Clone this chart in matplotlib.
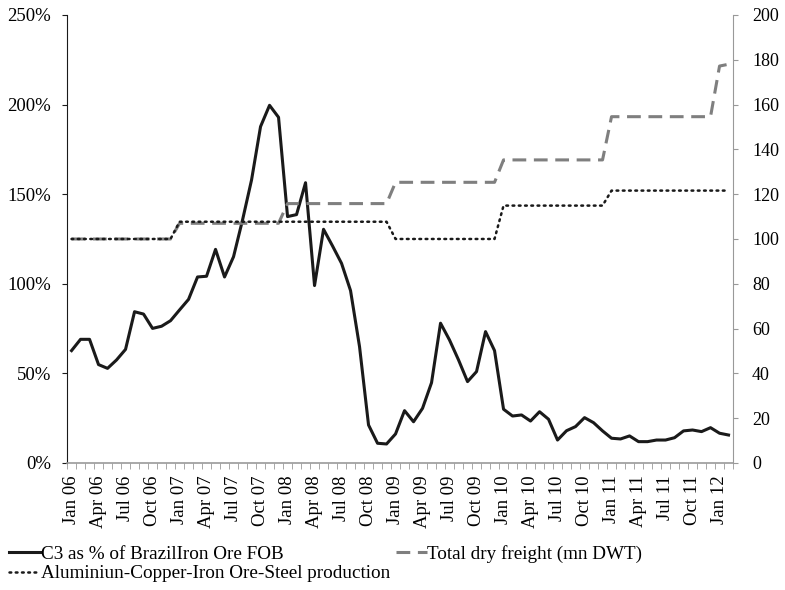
import numpy as np #number functions
import matplotlib
matplotlib.use('Agg')
import matplotlib.pyplot as plt #plotting functions
from matplotlib.ticker import FixedLocator, FuncFormatter

plt.rcParams['font.family'] = ['Liberation Serif', 'DejaVu Serif'] #times-like font

months = ['Jan', 'Feb', 'Mar', 'Apr', 'May', 'Jun', 'Jul', 'Aug', 'Sep', 'Oct', 'Nov', 'Dec']
labels = [m + ' %02d' % y for y in range(6, 13) for m in months][:74] #Jan 06 .. Feb 12

# C3 as % of Brazil iron ore FOB (left axis, %)
c3_pct = [62.7, 69.0, 69.0, 54.9, 52.8, 57.5, 63.4, 84.4, 83.1, 75.1, 76.3, 79.4,
          85.4, 91.3, 103.8, 104.2, 119.2, 103.8, 115.1, 135.6, 157.9, 187.7, 199.6, 192.9,
          137.5, 138.6, 156.4, 99.0, 130.4, 121.1, 111.4, 96.2, 64.9, 21.2, 11.0, 10.6,
          16.2, 29.2, 23.0, 30.5, 44.8, 78.0, 68.6, 57.5, 45.4, 51.0, 73.3, 62.7,
          30.0, 26.2, 26.8, 23.4, 28.6, 24.4, 12.8, 18.0, 20.3, 25.3, 22.5, 17.9,
          13.8, 13.4, 15.1, 11.9, 11.9, 12.8, 12.8, 14.1, 17.9, 18.4, 17.5, 19.7,
          16.6, 15.6]

# total dry freight, mn DWT (right axis)
freight = [100.0] * 12 + [107.0] * 12 + [115.8] * 12 + [125.3] * 12 + [135.3] * 12 + [154.6] * 12 + [177.2, 178.0]

# aluminium-copper-iron ore-steel production index (right axis)
production = [100.0] * 12 + [107.7] * 24 + [100.0] * 12 + [114.9] * 12 + [121.6] * 14

x = np.arange(len(labels))

fig = plt.figure(figsize=(7.85, 5.9), dpi=100)
ax = fig.add_axes([0.0854, 0.2153, 0.8484, 0.7593])
ax2 = ax.twinx()

l1, = ax.plot(x, c3_pct, color='#1a1a1a', lw=2.2, label='C3 as % of BrazilIron Ore FOB')
l2, = ax2.plot(x, freight, color='#7f7f7f', lw=2.2, ls=(0, (4.5, 2.5)), label='Total dry freight (mn DWT)')
l3, = ax2.plot(x, production, color='#1a1a1a', lw=1.8, ls=(0, (0.7, 1.8)), dash_capstyle='round',
               label='Aluminiun-Copper-Iron Ore-Steel production')

ax.set_xlim(-0.5, len(labels) - 0.5)
ax.set_ylim(0, 250)
ax2.set_ylim(0, 200)
ax.set_yticks(np.arange(0, 251, 50))
ax.yaxis.set_major_formatter(FuncFormatter(lambda v, p: '%d%%' % v))
ax2.set_yticks(np.arange(0, 201, 20))

ax.set_xticks(x[::3])
ax.set_xticklabels(labels[::3], rotation=90)
ax.xaxis.set_minor_locator(FixedLocator(np.arange(-0.5, len(labels), 1)))
ax.tick_params(axis='x', which='both', length=0, pad=9, labelsize=13.5)
ax.tick_params(axis='x', which='minor', length=4, color='#999999', direction='out')
ax.tick_params(axis='y', length=3.6, color='#1a1a1a', labelsize=13.5, pad=8)
ax2.tick_params(axis='y', length=3.6, color='#999999', labelsize=13, pad=10)

for a in (ax, ax2):
    a.spines['top'].set_visible(False)
ax.spines['right'].set_visible(False)
ax2.spines['left'].set_visible(False)
ax2.spines['bottom'].set_visible(False)
ax.spines['left'].set_color('#1a1a1a')
ax.spines['bottom'].set_color('#999999')
ax2.spines['right'].set_color('#999999')
ax.spines['bottom'].set_linewidth(1.2)

fig.legend(handles=[l1, l3, l2], loc='lower left', bbox_to_anchor=(0.002, 0.0), ncol=2, frameon=False,
           fontsize=13.8, handlelength=1.6, handletextpad=0.05, columnspacing=0.3, labelspacing=0.1,
           borderaxespad=0.0)

plt.savefig('out.png', dpi=100) #save figure
